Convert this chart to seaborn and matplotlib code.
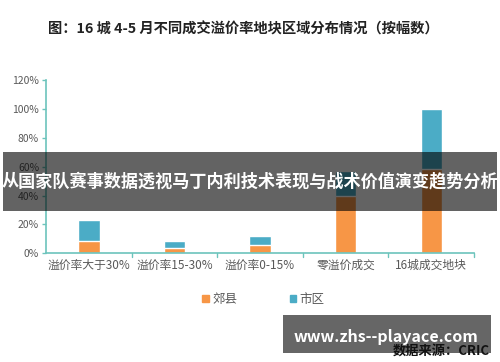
import matplotlib
matplotlib.use("Agg")
import matplotlib.pyplot as plt
from matplotlib.patches import Rectangle
import seaborn as sns

categories = ['溢价率大于30%', '溢价率15-30%', '溢价率0-15%', '零溢价成交', '16城成交地块']
suburb = [8.6, 3.7, 5.8, 39.4, 58.5]   # 郊县
city = [14.4, 4.9, 6.5, 17.4, 41.5]    # 市区
total = [s + c for s, c in zip(suburb, city)]
yticks = [0, 20, 40, 60, 80, 100, 120]

orange = '#F79646'
blue = '#4BACC6'
axis_col = '#6CC4BC'
text_gray = '#595959'

sns.set_style('white')
plt.rcParams['font.family'] = ['Noto Sans CJK SC', 'DejaVu Sans']

fig = plt.figure(figsize=(5, 3.62), dpi=100)
ax = fig.add_axes([0.092, 0.3003, 0.856, 0.4787])

# stacked bars: full height in blue, suburb part in orange on top of it
sns.barplot(x=categories, y=total, color=blue, width=0.25, saturation=1, ax=ax)
sns.barplot(x=categories, y=suburb, color=orange, width=0.25, saturation=1, ax=ax)

ax.set_xlim(-0.5, len(categories) - 0.5)
ax.set_ylim(0, 120)
ax.set_yticks(yticks)
ax.set_yticklabels([f'{v}%' for v in yticks], fontsize=7.5, color=text_gray)
ax.set_xticks(range(len(categories)))
ax.set_xticklabels(categories, fontsize=8.5, color=text_gray)
ax.tick_params(axis='x', length=0, pad=4)
ax.tick_params(axis='y', length=3, color=axis_col, width=1, pad=2, left=True)
# tick marks between categories
for b in [i + 0.5 for i in range(len(categories))]:
    ax.plot([b, b], [0, -2.5], color=axis_col, lw=1, clip_on=False)
for s in ['top', 'right']:
    ax.spines[s].set_visible(False)
for s in ['left', 'bottom']:
    ax.spines[s].set_color(axis_col)
    ax.spines[s].set_linewidth(1.2)

fig.text(0.487, 0.92, '图：16 城 4-5 月不同成交溢价率地块区域分布情况（按幅数）',
         ha='center', va='center', fontsize=10.3, fontweight='bold', color='#222222')

# legend
handles = [Rectangle((0, 0), 1, 1, color=orange), Rectangle((0, 0), 1, 1, color=blue)]
leg = fig.legend(handles, ['郊县', '市区'], loc='center', bbox_to_anchor=(0.527, 0.174),
                 ncol=2, frameon=False, fontsize=9, handlelength=0.5, handleheight=0.5,
                 handletextpad=0.3, columnspacing=4.2)
for t in leg.get_texts():
    t.set_color(text_gray)

# dark banner across the chart
fig.patches.append(Rectangle((0.006, 1 - 211 / 362), 0.988, 59 / 362, transform=fig.transFigure,
                             facecolor='black', alpha=0.61, edgecolor='none', zorder=10))
fig.text(0.5, 1 - 181 / 362, '从国家队赛事数据透视马丁内利技术表现与战术价值演变趋势分析',
         ha='center', va='center', fontsize=12.3, fontweight='bold', color='white', zorder=11)

# watermark box and source
fig.patches.append(Rectangle((283 / 500, 1 - 353 / 362), 208 / 500, 38 / 362, transform=fig.transFigure,
                             facecolor='#666666', edgecolor='none', zorder=10))
fig.text(386 / 500, 1 - 337 / 362, 'www.zhs--playace.com', ha='center', va='center',
         fontsize=11.5, fontweight='bold', color='white', zorder=11)
fig.text(490 / 500, 1 - 351 / 362, '数据来源：CRIC', ha='right', va='center',
         fontsize=9.5, fontweight='bold', color='#111111', zorder=12)

fig.savefig('out.png', dpi=100)
